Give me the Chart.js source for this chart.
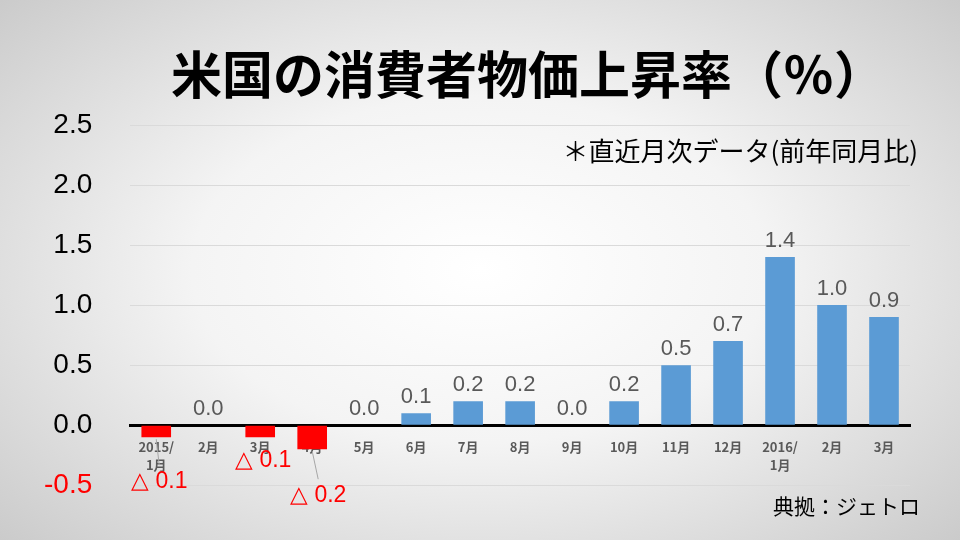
<!DOCTYPE html>
<html>
<head>
<meta charset="utf-8">
<script src="https://cdn.jsdelivr.net/npm/chart.js@4"></script>
<style>
  html, body { margin: 0; padding: 0; }
  body {
    width: 960px; height: 540px; overflow: hidden;
    background: radial-gradient(ellipse 75% 80% at 50% 50%, #ffffff 0%, #f4f4f4 40%, #c4c4c4 100%);
  }
  canvas { display: block; }
</style>
</head>
<body>
<canvas id="cpiChart" width="960" height="540"></canvas>
<script>
const months = [['2015/', '1月'], '2月', '3月', '4月', '5月', '6月', '7月', '8月', '9月', '10月', '11月', '12月', ['2016/', '1月'], '2月', '3月'];
const cpiValues = [-0.1, 0.0, -0.1, -0.2, 0.0, 0.1, 0.2, 0.2, 0.0, 0.2, 0.5, 0.7, 1.4, 1.0, 0.9];
const yTicks = [-0.5, 0.0, 0.5, 1.0, 1.5, 2.0, 2.5];

const titleText = '米国の消費者物価上昇率（％）';
const noteText = '＊直近月次データ(前年同月比)';
const sourceText = '典拠：ジェトロ';

// where the "△" labels of the negative bars sit, relative to the bar
const negLabelOffsets = { 0: [3, 56, true], 2: [3, 35, false], 3: [6, 70, true] };

const valueLabels = {
    id: 'valueLabels',
    afterDatasetsDraw(chart) {
        const ctx = chart.ctx;
        const meta = chart.getDatasetMeta(0);
        const y = chart.scales.y;
        ctx.save();
        ctx.textAlign = 'center';
        ctx.textBaseline = 'alphabetic';
        meta.data.forEach((bar, i) => {
            const v = cpiValues[i];
            if (v >= 0) {
                ctx.font = '22px "Liberation Sans", Arial, sans-serif';
                ctx.fillStyle = '#595959';
                ctx.fillText(v.toFixed(1), bar.x, bar.y - 10);
            } else {
                const off = negLabelOffsets[i];
                const zero = y.getPixelForValue(0);
                const lx = bar.x + off[0];
                const ly = zero + off[1];
                if (off[2]) {
                    ctx.strokeStyle = '#a6a6a6';
                    ctx.lineWidth = 1;
                    ctx.beginPath();
                    ctx.moveTo(bar.x, bar.y + 2);
                    ctx.lineTo(lx, ly - 16);
                    ctx.stroke();
                }
                ctx.font = '23px "Liberation Sans", Arial, sans-serif';
                ctx.fillStyle = '#ff0000';
                ctx.textBaseline = 'middle';
                ctx.fillText('△ ' + Math.abs(v).toFixed(1), lx, ly);
                ctx.textBaseline = 'alphabetic';
            }
        });
        ctx.restore();
    }
};

const slideText = {
    id: 'slideText',
    afterDraw(chart) {
        const ctx = chart.ctx;
        ctx.save();
        ctx.fillStyle = '#000';
        ctx.textBaseline = 'middle';
        ctx.textAlign = 'center';
        ctx.font = 'bold 51px "Noto Sans CJK JP", sans-serif';
        ctx.fillText(titleText, 528, 75);
        ctx.textAlign = 'right';
        ctx.font = '26px "Noto Sans CJK JP", sans-serif';
        ctx.fillText(noteText, 918, 151);
        ctx.font = '21px "Noto Sans CJK JP", sans-serif';
        ctx.fillText(sourceText, 920, 506);
        ctx.restore();
    }
};

new Chart(document.getElementById('cpiChart').getContext('2d'), {
    type: 'bar',
    data: {
        labels: months,
        datasets: [{
            data: cpiValues,
            backgroundColor: cpiValues.map(v => v < 0 ? '#ff0000' : '#5b9bd5'),
            barPercentage: 0.57,
            categoryPercentage: 1.0
        }]
    },
    options: {
        responsive: false,
        animation: false,
        devicePixelRatio: 1,
        layout: { padding: { top: 125, bottom: 52, left: 6, right: 50 } },
        plugins: {
            legend: { display: false },
            tooltip: { enabled: false }
        },
        scales: {
            x: {
                position: { y: 0 },
                z: 1,
                grid: { display: false },
                border: { display: true, color: '#000', width: 3 },
                ticks: {
                    padding: 4,
                    color: '#595959',
                    font: { family: '"Noto Sans CJK JP", sans-serif', size: 13, weight: 'bold', lineHeight: 1.45 },
                    maxRotation: 0,
                    autoSkip: false
                }
            },
            y: {
                min: -0.5,
                max: 2.5,
                afterBuildTicks: axis => { axis.ticks = yTicks.map(v => ({ value: v })); },
                grid: { color: '#dadada', lineWidth: 1, drawTicks: false },
                border: { display: false },
                ticks: {
                    padding: 38,
                    color: ctx => ctx.tick.value < 0 ? '#ff0000' : '#000',
                    font: { family: '"Liberation Sans", Arial, sans-serif', size: 28 },
                    callback: v => v.toFixed(1)
                }
            }
        }
    },
    plugins: [valueLabels, slideText]
});
</script>
</body>
</html>
